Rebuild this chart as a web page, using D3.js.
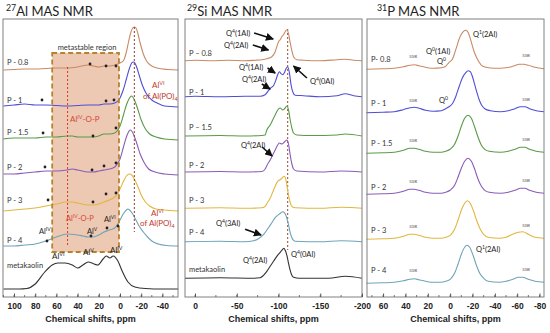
<!DOCTYPE html>
<html><head><meta charset="utf-8">
<script src="https://cdn.jsdelivr.net/npm/d3@7"></script>
<style>body{margin:0;background:#fff}svg{display:block}</style>
</head><body><svg id="c" width="550" height="333"></svg>
<script>
// ---------------- DATA ----------------
const alNames = ["P - 0.8","P - 1","P - 1.5","P - 2","P - 3","P - 4","metakaolin"];
const siNames = ["P \u2013 0.8","P - 1","P \u2013 1.5","P - 2","P - 3","P - 4","metakaolin"];
const pNames  = ["P- 0.8","P - 1","P - 1.5","P - 2","P - 3","P - 4"];
const alTicks = [100,80,60,40,20,0,-20,-40];
const siTicks = [0,-50,-100,-150,-200];
const pTicks  = [60,40,20,0,-20,-40,-60,-80];
// stacking offsets (intensity units)
const alOffsets = [227,190,157,122,86,51,8];
const siOffsets = [236.3,200.3,161,125,88.7,55.3,18.7];
const pOffsets  = [227.7,184.3,143.7,102.7,57.7,13.7];

// 27Al spectra: [ppm, intensity]
const alP08 = [[110,0],[100,0.5],[90,1],[80,1],[70,1.5],[60,2],[50,2],[40,3],[30,5],[25,4],[20,3],[15,4],[10,4],[5,5],[0,7],[-3,9],[-6,18],[-8,28],[-10,37],[-12,42],[-13.5,43],[-15,42],[-17,36],[-19,27],[-22,16],[-25,9],[-30,4],[-35,2],[-45,0.5],[-55,0]];
const alP1 = [[110,1],[100,2],[90,3],[80,2],[70,2],[60,1.5],[50,1],[40,1.5],[30,2],[20,2],[15,3],[10,3],[5,4],[2,6],[0,9],[-3,17],[-6,28],[-9,39],[-11,44],[-12.5,45],[-14,44],[-16,39],[-18,32],[-21,22],[-25,13],[-30,7],[-35,4],[-42,1],[-55,0]];
const alP15 = [[110,1],[100,2],[90,2],[80,2],[70,3],[60,3],[50,4],[45,4],[40,3],[30,3],[25,3],[20,4],[15,6],[10,6],[5,7],[2,10],[0,14],[-3,24],[-6,35],[-9,42],[-10.5,44],[-12,43],[-14,39],[-17,30],[-20,20],[-24,11],[-28,6],[-34,3],[-42,1],[-55,0]];
const alP2 = [[110,1],[100,1],[90,2],[80,3],[70,4],[60,4],[50,5],[45,6],[40,5],[30,3],[25,3],[20,4],[15,5],[10,6],[5,8],[2,12],[0,16],[-3,27],[-6,38],[-8,43],[-9.5,45],[-11,44],[-13,40],[-16,31],[-19,21],[-23,12],[-27,6],[-33,3],[-42,1],[-55,0]];
const alP3 = [[110,0],[100,1],[90,2],[80,3],[70,5],[60,7],[50,9],[45,9],[40,8],[30,6],[25,6],[20,7],[15,9],[10,11],[5,14],[2,18],[0,22],[-3,29],[-6,35],[-9,37],[-11,36],[-14,31],[-17,24],[-20,16],[-24,9],[-28,5],[-34,2],[-42,1],[-55,0]];
const alP4 = [[110,0],[100,0],[90,1],[80,2],[70,5],[60,9],[50,12],[40,11],[35,10],[30,9],[25,9],[20,11],[15,14],[10,16],[5,18],[2,22],[0,26],[-3,32],[-6,36],[-7.5,37],[-9,36],[-12,32],[-15,26],[-18,20],[-22,14],[-26,9],[-30,5],[-36,2],[-44,0.5],[-55,0]];
const alMK = [[110,0],[95,0],[88,0.5],[80,5],[71,17],[64,24],[58.5,26],[52,26],[45,24],[40,21],[35,24],[30,27],[24.5,25],[21,24],[16,30],[13,33],[9.5,31],[6.5,33],[2,28],[-2,18],[-7.5,7],[-14,2],[-24,0.5],[-40,0],[-55,0]];
// 27Al feature dots: [ppm, intensity above baseline]
const alDots = [
  [[28.3,6],[13.2,4],[3.8,4]],
  [[73.6,7],[13.2,6],[5.7,7]],
  [[72.6,7],[25.5,4],[3.8,12]],
  [[70.8,8],[26.4,5],[15.1,9],[3.8,12]],
  [[67.9,11],[25.5,9],[13.2,17],[3.8,18]],
  [[68.9,5],[27.4,10],[12.3,18],[1.9,20]]
];

// 29Si spectra
const siP08 = [[12,0],[0,0.5],[-20,0],[-40,0.5],[-60,0],[-72,0.5],[-80,1],[-86,2],[-92,4],[-96,9],[-98,14],[-100,19],[-102,21],[-104,24],[-106,26],[-108,29],[-110,31],[-112,27],[-114,18],[-116,10],[-118,4],[-122,1],[-130,0.5],[-150,0],[-170,1],[-180,1.5],[-190,0.5],[-200,0]];
const siP1 = [[12,0],[0,0.5],[-30,0],[-60,0.5],[-78,0.5],[-84,2],[-88,6],[-91,9],[-94,11],[-97,17],[-99,22],[-101,25],[-103,23],[-105,22],[-107,24],[-109,28],[-111,30],[-113,24],[-115,12],[-117,5],[-120,1.5],[-130,1],[-150,0],[-170,1],[-180,3],[-190,1],[-200,0]];
const siP15 = [[12,0],[-30,0.5],[-60,0],[-80,0.5],[-84,1],[-86,6],[-90,11],[-93,16],[-96,21],[-99,26],[-102,28],[-105,26],[-107,27],[-110,30],[-112,26],[-114,16],[-116,8],[-118,3],[-122,1],[-140,0.5],[-170,1],[-180,2],[-200,0]];
const siP2 = [[12,0],[-30,0.5],[-60,0],[-80,0.5],[-84,3],[-87,8],[-90,12],[-93,17],[-96,22],[-99,27],[-101,29],[-104,28],[-107,30],[-110,32],[-112,28],[-114,17],[-116,8],[-118,3],[-122,1],[-150,0],[-175,1],[-200,0]];
const siP3 = [[12,0],[-30,0.5],[-60,0],[-80,0.5],[-84,2],[-87,6],[-90,10],[-93,16],[-96,22],[-99,27],[-101,28],[-104,30],[-107,32],[-109,28],[-111,18],[-113,9],[-116,2],[-120,0.5],[-150,0],[-175,1],[-200,0]];
const siP4 = [[12,0],[-30,0.5],[-60,0],[-70,1],[-76,3],[-82,7],[-88,14],[-92,19],[-96,24],[-100,27],[-103,29],[-105,30],[-107,29],[-109,26],[-112,17],[-114,9],[-116,4],[-120,0.5],[-150,0],[-175,1],[-200,0]];
const siMK = [[12,0],[-30,0.5],[-70,0],[-78,0.5],[-82,3],[-86,7],[-90,12],[-94,17],[-98,22],[-102,26],[-105,29],[-106.5,30],[-108,28],[-110,23],[-112,15],[-114,8],[-116,3],[-118,1],[-125,0],[-160,0],[-180,2],[-200,0]];

// 31P spectra
const pP08 = [[75,0],[60,0.5],[50,1],[42,2.5],[36,4],[32,4.5],[28,3.5],[22,2],[15,1],[8,1.5],[4,3],[1,7],[-2,10],[-4,16],[-6,23],[-8,30],[-10,35],[-12,38],[-14,39],[-16,37],[-18,31],[-20,23],[-22,16],[-24,11],[-26,7],[-28,4],[-32,2],[-40,1],[-50,1.5],[-56,3],[-62,5],[-66,5],[-70,4],[-76,2],[-84,0.5]];
const pP1 = [[75,0],[60,0.5],[50,1],[42,3],[36,5],[32,5.5],[28,4.5],[22,2.5],[15,1.5],[8,2],[4,4],[1,6],[-2,9],[-5,16],[-8,26],[-11,35],[-14,40],[-16,42],[-18,41],[-20,36],[-22,28],[-24,20],[-26,13],[-28,8],[-31,4],[-36,2],[-45,1],[-52,2],[-58,4],[-63,6],[-67,6],[-71,4],[-77,2],[-84,1]];
const pP15 = [[75,0],[60,0.5],[50,1],[42,3],[36,5],[32,5],[28,4],[22,2],[15,1],[8,1],[4,2],[0,4],[-4,9],[-7,17],[-10,27],[-13,35],[-16,38],[-19,35],[-22,26],[-25,16],[-28,8],[-31,4],[-35,2],[-45,1],[-52,2],[-58,4],[-63,6],[-67,6],[-71,4],[-77,2],[-84,1]];
const pP2 = [[75,0],[60,0.5],[50,1],[42,3],[36,5],[32,5],[28,4],[22,2],[15,1],[8,1],[4,2],[0,4],[-4,9],[-7,17],[-10,26],[-13,33],[-16,36],[-19,33],[-22,25],[-25,15],[-28,8],[-31,4],[-35,2],[-45,1],[-52,2],[-58,4],[-63,6],[-67,6],[-71,4],[-77,2],[-84,1]];
const pP3 = [[75,0],[60,0.5],[50,1],[42,3],[36,5],[32,5],[28,4],[22,2],[15,1],[8,1],[4,2],[0,4],[-4,10],[-7,19],[-10,29],[-13,36],[-15.5,38.6],[-18,36],[-21,28],[-24,18],[-27,10],[-30,5],[-34,2],[-44,1],[-50,2],[-56,5],[-61,7],[-65,7.5],[-70,5],[-76,2],[-84,1]];
const pP4 = [[75,0],[60,0.5],[50,1],[42,2.5],[36,4],[32,4.5],[28,3.5],[22,2],[15,1],[8,1],[4,2],[0,4],[-4,10],[-7,19],[-10,29],[-13,36],[-15,38],[-17.5,36],[-20.5,28],[-23.5,18],[-26.5,10],[-30,5],[-34,2],[-44,1],[-50,2],[-56,4],[-61,6],[-65,6],[-70,4],[-76,2],[-84,1]];

const colors = ["#c98a66","#4f4fd6","#5a9a48","#8a5cb8","#e2b63e","#6fa3ba","#333333"];

// ---------------- DRAW ----------------
const svg = d3.select("#c");
const yTop = 19, yBot = 297;
const y = d3.scaleLinear().domain([0, yBot - yTop]).range([yBot, yTop]);

function rich(g, x, yy, str, size, color, opts = {}) {
  const t = g.append("text").attr("x", x).attr("y", yy).attr("font-size", size)
    .attr("fill", color).attr("font-family", opts.font || "Lato, 'Open Sans', sans-serif")
    .attr("text-anchor", opts.anchor || "start");
  if (opts.weight) t.attr("font-weight", opts.weight);
  const re = /(\^\{[^}]*\}|_\{[^}]*\})/;
  let shift = 0;
  str.split(re).filter(s => s.length).forEach(s => {
    let target = 0, fs = size, txt = s;
    if (s.startsWith("^{")) { target = -size * 0.38; fs = size * 0.68; txt = s.slice(2, -1); }
    else if (s.startsWith("_{")) { target = size * 0.22; fs = size * 0.68; txt = s.slice(2, -1); }
    t.append("tspan").attr("dy", target - shift).attr("font-size", fs).text(txt);
    shift = target;
  });
  return t;
}

svg.append("defs").append("marker").attr("id","ah").attr("viewBox","0 0 10 10")
  .attr("refX",9).attr("refY",5).attr("markerWidth",5).attr("markerHeight",5)
  .attr("orient","auto").append("path").attr("d","M0,0L10,5L0,10z").attr("fill","#111");

function panel(cfg) {
  const g = svg.append("g");
  const x = d3.scaleLinear().domain(cfg.domain).range([cfg.left, cfg.right]);
  cfg.before && cfg.before(g, x);
  const line = d3.line().x(d => x(d[0])).curve(d3.curveMonotoneX);
  cfg.series.forEach((s, i) => {
    g.append("path").datum(s).attr("fill","none").attr("stroke", colors[i])
      .attr("stroke-width", 1.1).attr("d", line.y(d => y(d[1] + cfg.offsets[i])));
  });
  g.append("rect").attr("x", cfg.left).attr("y", yTop).attr("width", cfg.right - cfg.left)
    .attr("height", yBot - yTop).attr("fill","none").attr("stroke","#808080").attr("stroke-width",1);
  const minor = d3.range(Math.ceil(Math.min(...cfg.domain)/cfg.minorStep)*cfg.minorStep,
                         Math.max(...cfg.domain) + 0.001, cfg.minorStep);
  g.selectAll(".mt").data(minor).join("line").attr("x1", d => x(d)).attr("x2", d => x(d))
    .attr("y1", yBot).attr("y2", yBot - 2).attr("stroke","#555").attr("stroke-width",0.8);
  const ax = g.append("g").attr("transform", `translate(0,${yBot})`)
    .call(d3.axisBottom(x).tickValues(cfg.ticks).tickSize(-3.5).tickPadding(7).tickFormat(d3.format("d")));
  ax.select(".domain").remove();
  ax.selectAll(".tick line").attr("stroke","#555");
  ax.selectAll(".tick text").attr("font-family","'Liberation Sans', Arial, sans-serif")
    .attr("font-weight","bold").attr("font-size",8.5).attr("fill","#222").attr("dy","0.55em")
    .text(d => d < 0 ? "-" + Math.abs(d) : d);
  g.append("text").attr("x", (cfg.left + cfg.right)/2).attr("y", 322).attr("text-anchor","middle")
    .attr("font-family","'Liberation Sans', Arial, sans-serif").attr("font-weight","bold")
    .attr("font-size",9).attr("fill","#222").text("Chemical shifts, ppm");
  rich(svg, cfg.titleX, 16, cfg.title, 13, "#222");
  cfg.names.forEach((n, i) => rich(g, cfg.left + 4, cfg.nameY[i], n, 7.5, "#333"));
  cfg.after && cfg.after(g, x);
}

// Al panel
panel({
  left: 3, right: 178, domain: [110.4, -54.7], ticks: alTicks, minorStep: 10,
  title: "^{27}Al MAS NMR", titleX: 6,
  series: [alP08, alP1, alP15, alP2, alP3, alP4, alMK], offsets: alOffsets,
  names: alNames, nameY: [65,103,135,170,203,243,268],
  before: (g, x) => {
    g.append("rect").attr("x", x(64)).attr("y", y(244)).attr("width", x(1) - x(64))
      .attr("height", y(45) - y(244)).attr("fill","#dc9468").attr("fill-opacity",0.5);
  },
  after: (g, x) => {
    g.append("rect").attr("x", x(64)).attr("y", y(244)).attr("width", x(1) - x(64))
      .attr("height", y(45) - y(244)).attr("fill","none").attr("stroke","#b7832c")
      .attr("stroke-width",1.8).attr("stroke-dasharray","5,3");
    g.append("line").attr("x1", x(49.5)).attr("x2", x(49.5)).attr("y1", y(230)).attr("y2", y(50))
      .attr("stroke","#d03a2a").attr("stroke-width",1).attr("stroke-dasharray","2,2");
    g.append("line").attr("x1", x(-13.5)).attr("x2", x(-13.5)).attr("y1", y(270)).attr("y2", y(65))
      .attr("stroke","#9a3a2a").attr("stroke-width",1).attr("stroke-dasharray","2,2");
    alDots.forEach((ds, i) => g.selectAll(null).data(ds).join("circle")
      .attr("cx", d => x(d[0])).attr("cy", d => y(d[1] + alOffsets[i])).attr("r", 1.4).attr("fill","#222"));
    rich(g, 87, 50, "metastable region", 7.5, "#333", {anchor:"middle"});
    rich(g, 70, 122, "Al^{IV}-O-P", 8, "#d8453a");
    rich(g, 66, 221, "Al^{IV}-O-P", 7.5, "#d8453a");
    rich(g, 87, 234, "Al^{V}", 7.5, "#222");
    rich(g, 104, 222, "Al^{VI}", 7.5, "#222");
    rich(g, 39, 234, "Al^{IV}", 7.5, "#222");
    rich(g, 52, 259, "Al^{VI}", 8, "#222");
    rich(g, 83, 255, "Al^{V}", 8, "#222");
    rich(g, 110, 253, "Al^{IV}", 8, "#222");
    rich(g, 152, 88, "Al^{VI}", 8, "#c0392b");
    rich(g, 143, 99, "of Al(PO)_{4}", 8, "#c0392b");
    rich(g, 151, 216, "Al^{VI}", 8, "#c0392b");
    rich(g, 140, 226, "of Al(PO)_{4}", 8, "#c0392b");
  }
});

// Si panel
panel({
  left: 185, right: 362, domain: [12, -200], ticks: siTicks, minorStep: 25,
  title: "^{29}Si MAS NMR", titleX: 187,
  series: [siP08, siP1, siP15, siP2, siP3, siP4, siMK], offsets: siOffsets,
  names: siNames, nameY: [55.5,94.5,129.5,168,203,234.5,272],
  before: (g, x) => {
    g.append("line").attr("x1", x(-111)).attr("x2", x(-111)).attr("y1", y(268)).attr("y2", y(47))
      .attr("stroke","#9a4a2a").attr("stroke-width",1).attr("stroke-dasharray","2,2");
  },
  after: (g, x) => {
    const arrows = [
      [[-70.8,264],[-93.6,258]], [[-69.2,252],[-88,247]], [[-86.8,229],[-96,224]],
      [[-80,213],[-90,208]], [[-134,219],[-118,231]], [[-80.4,150],[-92.4,141]], [[-60,67.7],[-79.2,62]]
    ];
    arrows.forEach(a => g.append("line").attr("x1", x(a[0][0])).attr("y1", y(a[0][1]))
      .attr("x2", x(a[1][0])).attr("y2", y(a[1][1])).attr("stroke","#111").attr("stroke-width",1.6)
      .attr("marker-end","url(#ah)"));
    rich(g, 226, 36, "Q^{4}(1Al)", 7.5, "#222");
    rich(g, 224, 48, "Q^{4}(2Al)", 7.5, "#222");
    rich(g, 239, 70, "Q^{4}(1Al)", 7.5, "#222");
    rich(g, 242, 82, "Q^{4}(2Al)", 7.5, "#222");
    rich(g, 310, 84, "Q^{4}(0Al)", 7.5, "#222");
    rich(g, 241, 148, "Q^{4}(2Al)", 7.5, "#222");
    rich(g, 216, 226, "Q^{4}(3Al)", 7.5, "#222");
    rich(g, 243, 263, "Q^{4}(2Al)", 7.5, "#222");
    rich(g, 291, 257, "Q^{4}(0Al)", 7.5, "#222");
  }
});

// P panel
panel({
  left: 367, right: 544, domain: [74.4, -84], ticks: pTicks, minorStep: 10,
  title: "^{31}P MAS NMR", titleX: 377,
  series: [pP08, pP1, pP15, pP2, pP3, pP4], offsets: pOffsets,
  names: pNames, nameY: [62,106,146,189.5,233,273],
  after: (g, x) => {
    pOffsets.forEach((o, i) => {
      rich(g, x(33), y(o + 11), "SSB", 4.5, "#555", {anchor:"middle"});
      rich(g, x(-68), y(o + 12), "SSB", 4.5, "#555", {anchor:"middle"});
    });
    rich(g, 473, 37, "Q^{1}(2Al)", 7.5, "#222");
    rich(g, 426, 54, "Q^{0}(1Al)", 7.5, "#222");
    rich(g, 437, 64, "Q^{0}", 7.5, "#222");
    rich(g, 439, 103, "Q^{0}", 7.5, "#222");
    rich(g, 476, 252, "Q^{1}(2Al)", 7.5, "#222");
  }
});
</script></body></html>
